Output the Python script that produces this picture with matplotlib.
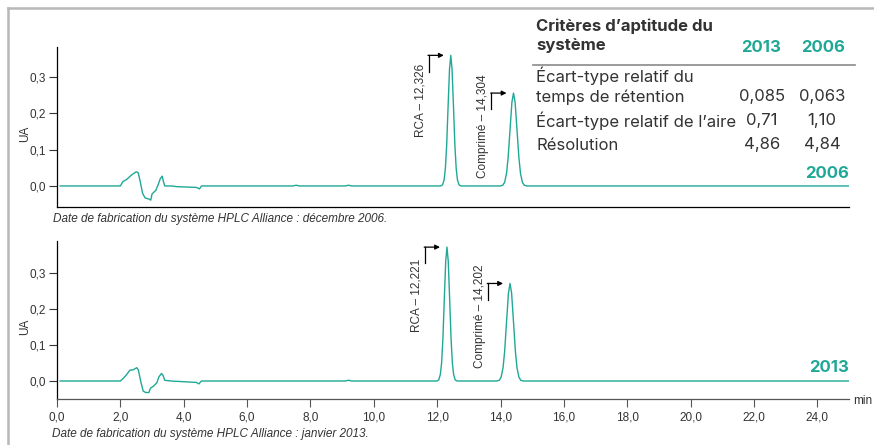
import matplotlib
matplotlib.use("Agg")
import matplotlib.pyplot as plt
from matplotlib.lines import Line2D

# ---------------- data ----------------
t_2006 = [0.1, 2.0, 2.08, 2.2, 2.35, 2.5, 2.56, 2.62, 2.7, 2.78, 2.9, 2.96, 3.0, 3.12, 3.2,
          3.26, 3.32, 3.36, 3.4, 3.6, 3.8, 4.4, 4.5, 4.56, 7.45, 7.55, 7.65, 9.1, 9.2, 9.3,
          12.11, 12.17, 12.22, 12.26, 12.30, 12.345, 12.39, 12.43, 12.47, 12.515, 12.56, 12.60,
          12.64, 12.69, 12.75,
          13.99, 14.07, 14.13, 14.19, 14.24, 14.30, 14.36, 14.41, 14.46, 14.52, 14.58, 14.63,
          14.69, 14.75, 14.83, 25.0]
ua_2006 = [0.0, 0.0, 0.012, 0.018, 0.03, 0.039, 0.037, 0.015, -0.02, -0.033, -0.036, -0.039, -0.022, -0.012, 0.005,
           0.02, 0.027, 0.012, 0.0, 0.0, -0.002, -0.004, -0.008, 0.0, 0.0, 0.002, 0.0, 0.0, 0.002, 0.0,
           0.0, 0.003, 0.017, 0.049, 0.112, 0.219, 0.322, 0.36, 0.322, 0.219, 0.112, 0.049,
           0.017, 0.003, 0.0,
           0.0, 0.002, 0.010, 0.035, 0.078, 0.155, 0.231, 0.256, 0.231, 0.155, 0.078, 0.035,
           0.010, 0.002, 0.0, 0.0]

t_2013 = [0.1, 2.0, 2.1, 2.2, 2.3, 2.4, 2.52, 2.57, 2.64, 2.72, 2.8, 2.9, 2.95, 3.05, 3.15,
          3.22, 3.3, 3.35, 3.4, 3.6, 4.0, 4.4, 4.48, 4.56, 9.1, 9.2, 9.3,
          11.99, 12.05, 12.10, 12.14, 12.18, 12.225, 12.27, 12.31, 12.35, 12.395, 12.44, 12.48,
          12.52, 12.57, 12.63,
          13.88, 13.96, 14.02, 14.08, 14.13, 14.19, 14.25, 14.30, 14.35, 14.41, 14.47, 14.52,
          14.58, 14.64, 14.72, 25.0]
ua_2013 = [0.0, 0.0, 0.008, 0.018, 0.03, 0.031, 0.037, 0.03, 0.0, -0.028, -0.032, -0.032, -0.02, -0.014, -0.005,
           0.012, 0.021, 0.015, 0.002, 0.0, -0.002, -0.004, -0.008, 0.0, 0.0, 0.002, 0.0,
           0.0, 0.003, 0.018, 0.05, 0.115, 0.226, 0.333, 0.372, 0.333, 0.226, 0.115, 0.05,
           0.018, 0.003, 0.0,
           0.0, 0.002, 0.011, 0.037, 0.082, 0.164, 0.244, 0.271, 0.244, 0.164, 0.082, 0.037,
           0.011, 0.002, 0.0, 0.0]

peaks_2006_t = [12.43, 14.41]
peaks_2006_h = [0.36, 0.256]
peaks_2013_t = [12.31, 14.30]
peaks_2013_h = [0.372, 0.271]
labels_2006 = ["RCA – 12,326", "Comprimé – 14,304"]
labels_2013 = ["RCA – 12,221", "Comprimé – 14,202"]

yticks = [0.0, 0.1, 0.2, 0.3]
ytick_labels = ["0,0", "0,1", "0,2", "0,3"]
xticks = [0, 2, 4, 6, 8, 10, 12, 14, 16, 18, 20, 22, 24]
xtick_labels = ["0,0", "2,0", "4,0", "6,0", "8,0", "10,0", "12,0", "14,0", "16,0",
                "18,0", "20,0", "22,0", "24,0"]

table_title = "Critères d’aptitude du\nsystème"
table_years = ["2013", "2006"]
table_rows = ["Écart-type relatif du\ntemps de rétention", "Écart-type relatif de l’aire", "Résolution"]
table_2013 = ["0,085", "0,71", "4,86"]
table_2006 = ["0,063", "1,10", "4,84"]

caption_2006 = "Date de fabrication du système HPLC Alliance : décembre 2006."
caption_2013 = "Date de fabrication du système HPLC Alliance : janvier 2013."

# ---------------- style ----------------
TEAL = "#1fa896"
DARK = "#333333"
W, H = 874, 445
plt.rcParams["font.family"] = ["Liberation Sans", "DejaVu Sans"]

fig = plt.figure(figsize=(W / 100, H / 100), dpi=100)


def fx(px):
    return px / W


def fy(py):
    return 1 - py / H


ax1 = fig.add_axes([fx(57), fy(207), fx(849) - fx(57), fy(47) - fy(207)])
ax2 = fig.add_axes([fx(57), fy(399), fx(849) - fx(57), fy(241) - fy(399)])


def style_axis(ax, ylo, yhi, show_x):
    ax.set_xlim(0, 25)
    ax.set_ylim(ylo, yhi)
    for s in ["top", "right"]:
        ax.spines[s].set_visible(False)
    ax.spines["left"].set_linewidth(0.9)
    ax.spines["bottom"].set_linewidth(0.9)
    ax.set_yticks(yticks)
    ax.set_yticklabels(ytick_labels, fontsize=8.5, color=DARK)
    ax.tick_params(axis="y", length=6, width=0.8, pad=2, color="#333333")
    ax.set_ylabel("UA", fontsize=8.5, color=DARK, va="center")
    ax.yaxis.set_label_coords(-0.040, 0.455)
    if show_x:
        ax.spines["bottom"].set_color("#555555")
        ax.set_xticks(xticks)
        ax.set_xticklabels(xtick_labels, fontsize=8.5, color=DARK)
        ax.tick_params(axis="x", length=6, width=0.8, pad=3, color="#555555")
    else:
        ax.set_xticks([])
    ax.patch.set_alpha(0)


style_axis(ax1, -0.058, 0.383, False)
style_axis(ax2, -0.05, 0.389, True)

ax1.plot(t_2006, ua_2006, color=TEAL, lw=1.0, solid_joinstyle="round")
ax2.plot(t_2013, ua_2013, color=TEAL, lw=1.0, solid_joinstyle="round")

label_bottoms_2006 = [0.135, 0.022]
label_bottoms_2013 = [0.136, 0.036]


def annotate_peaks(ax, pts, phs, labels, bottoms):
    for pt, ph, lab, lb in zip(pts, phs, labels, bottoms):
        vx = pt - 0.7
        ax.plot([vx, vx], [ph - 0.045, ph], color="black", lw=0.9)
        ax.annotate("", xy=(pt - 0.22, ph), xytext=(vx - 0.02, ph),
                    arrowprops=dict(arrowstyle="-|>", color="black", lw=0.9,
                                    mutation_scale=7, shrinkA=0, shrinkB=0))
        ax.text(vx - 0.07, lb, lab, rotation=90, ha="right", va="bottom",
                fontsize=8.5, color=DARK)


annotate_peaks(ax1, peaks_2006_t, peaks_2006_h, labels_2006, label_bottoms_2006)
annotate_peaks(ax2, peaks_2013_t, peaks_2013_h, labels_2013, label_bottoms_2013)

TF = ["Inter", "DejaVu Sans"]

# year tags
fig.text(fx(849), fy(174), table_years[1], ha="right", va="center", fontsize=12,
         fontweight="bold", color=TEAL, family=TF)
fig.text(fx(849), fy(367), table_years[0], ha="right", va="center", fontsize=12,
         fontweight="bold", color=TEAL, family=TF)

# min label
fig.text(fx(853), fy(401), "min", ha="left", va="center", fontsize=8.5, color=DARK)

# captions
fig.text(fx(53), fy(219), caption_2006, ha="left", va="center", fontsize=8.5,
         style="italic", color=DARK)
fig.text(fx(52), fy(434), caption_2013, ha="left", va="center", fontsize=8.5,
         style="italic", color=DARK)

# table
fig.text(fx(536), fy(18), table_title, ha="left", va="top", fontsize=12, fontweight="bold",
         color=DARK, family=TF, linespacing=1.35)
fig.text(fx(761), fy(47), table_years[0], ha="center", va="center", fontsize=12,
         fontweight="bold", color=TEAL, family=TF)
fig.text(fx(823), fy(47), table_years[1], ha="center", va="center", fontsize=12,
         fontweight="bold", color=TEAL, family=TF)
fig.add_artist(Line2D([fx(533), fx(855)], [fy(65), fy(65)], color="#8a8a8a", lw=1.2))

row_y = [97, 121, 145]
fig.text(fx(536), fy(76), "Écart-type relatif du", ha="left", va="center", fontsize=12,
         color=DARK, family=TF)
fig.text(fx(536), fy(row_y[0]), "temps de rétention", ha="left", va="center", fontsize=12,
         color=DARK, family=TF)
fig.text(fx(536), fy(row_y[1]), table_rows[1], ha="left", va="center", fontsize=12,
         color=DARK, family=TF)
fig.text(fx(536), fy(row_y[2]), table_rows[2], ha="left", va="center", fontsize=12,
         color=DARK, family=TF)
for y, a, b in zip(row_y, table_2013, table_2006):
    fig.text(fx(762), fy(y), a, ha="center", va="center", fontsize=12, color=DARK, family=TF)
    fig.text(fx(822), fy(y), b, ha="center", va="center", fontsize=12, color=DARK, family=TF)

# outer frame
fig.add_artist(Line2D([fx(8), fx(874)], [fy(8), fy(8)], color="#b8b8b8", lw=1.8))
fig.add_artist(Line2D([fx(8), fx(8)], [fy(8), fy(445)], color="#b8b8b8", lw=1.8))

fig.savefig("out.png", dpi=100)
